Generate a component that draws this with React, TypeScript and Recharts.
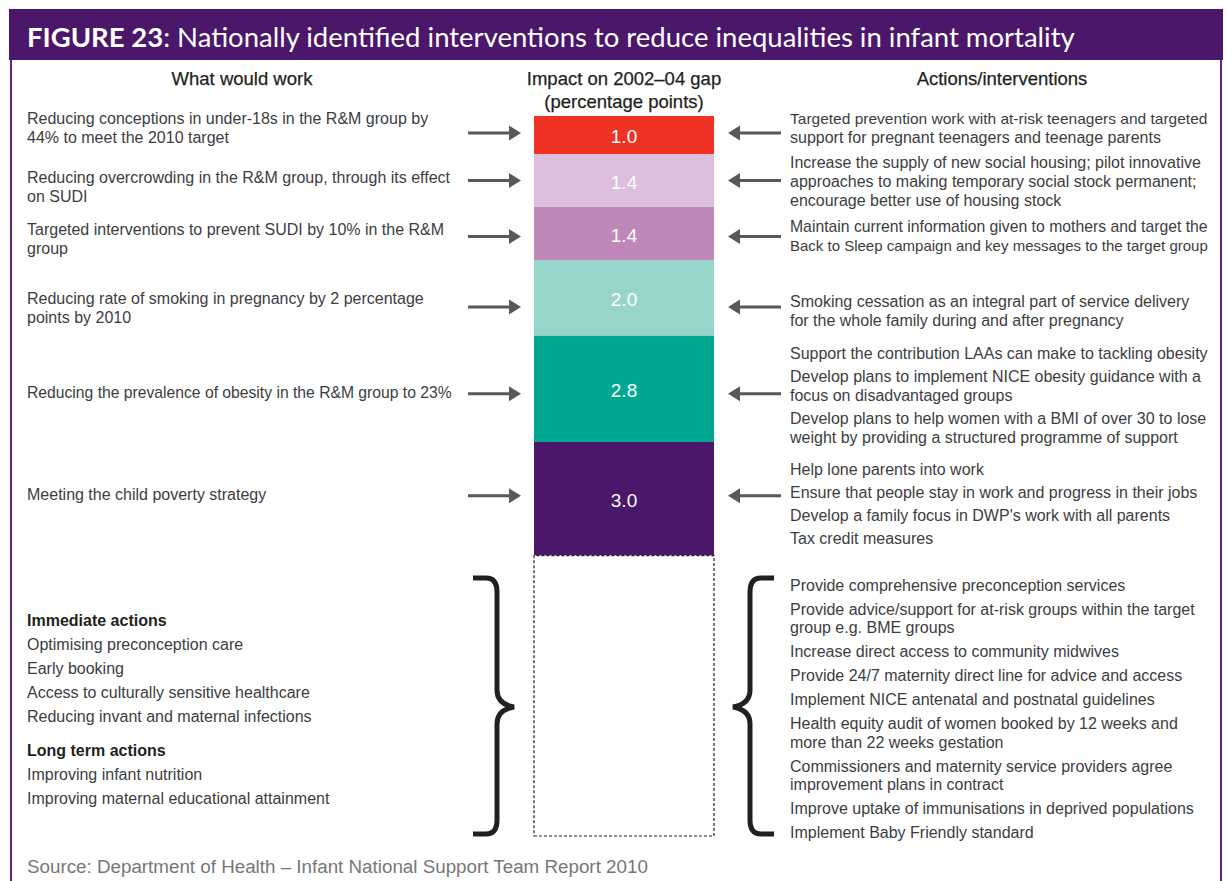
import { useLayoutEffect, useRef } from 'react';
import { Bar, BarChart, XAxis, YAxis } from 'recharts';

// impact on the 2002-04 gap, in percentage points, top to bottom
const impact = [1.0, 1.4, 1.4, 2.0, 2.8, 3.0];
// the part of the gap left over (dashed box)
const remainingGap = 7.4;

const whatWouldWork = [
  ['Reducing conceptions in under-18s in the R&M group by', '44% to meet the 2010 target'],
  ['Reducing overcrowding in the R&M group, through its effect', 'on SUDI'],
  ['Targeted interventions to prevent SUDI by 10% in the R&M', 'group'],
  ['Reducing rate of smoking in pregnancy by 2 percentage', 'points by 2010'],
  ['Reducing the prevalence of obesity in the R&M group to 23%'],
  ['Meeting the child poverty strategy'],
];

const actions = [
  [['Targeted prevention work with at-risk teenagers and targeted', 'support for pregnant teenagers and teenage parents']],
  [['Increase the supply of new social housing; pilot innovative', 'approaches to making temporary social stock permanent;', 'encourage better use of housing stock']],
  [['Maintain current information given to mothers and target the', 'Back to Sleep campaign and key messages to the target group']],
  [['Smoking cessation as an integral part of service delivery', 'for the whole family during and after pregnancy']],
  [
    ['Support the contribution LAAs can make to tackling obesity'],
    ['Develop plans to implement NICE obesity guidance with a', 'focus on disadvantaged groups'],
    ['Develop plans to help women with a BMI of over 30 to lose', 'weight by providing a structured programme of support'],
  ],
  [
    ['Help lone parents into work'],
    ['Ensure that people stay in work and progress in their jobs'],
    ["Develop a family focus in DWP's work with all parents"],
    ['Tax credit measures'],
  ],
];

const immediateActions = [
  'Optimising preconception care',
  'Early booking',
  'Access to culturally sensitive healthcare',
  'Reducing invant and maternal infections',
];
const longTermActions = ['Improving infant nutrition', 'Improving maternal educational attainment'];

const otherActions = [
  ['Provide comprehensive preconception services'],
  ['Provide advice/support for at-risk groups within the target', 'group e.g. BME groups'],
  ['Increase direct access to community midwives'],
  ['Provide 24/7 maternity direct line for advice and access'],
  ['Implement NICE antenatal and postnatal guidelines'],
  ['Health equity audit of women booked by 12 weeks and', 'more than 22 weeks gestation'],
  ['Commissioners and maternity service providers agree', 'improvement plans in contract'],
  ['Improve uptake of immunisations in deprived populations'],
  ['Implement Baby Friendly standard'],
];

const colors = ['#ee3224', '#dcbedd', '#c088b9', '#97d5ca', '#00a88f', '#4a176b'];
// small vertical nudges (px) of the side texts/arrows from the segment centre
const leftShift = [-7, 7, 6, 10, 4, -4];
const rightShift = [-7, 1, 3, 13, 7, 5];
const arrowShift = [-2, 0, 3, 9, 5, -3];

const chartData = [
  impact.reduce(
    (row: any, v, i) => ({ ...row, [`s${i}`]: v }),
    { name: 'gap', rest: remainingGap }
  ),
];

const FONT = '"Liberation Sans", Arial, sans-serif';
const TEXT = '#3d3d3f';
const DARK = '#231f20';
const BODY = 16;
const LINE = 19;
const ITEM_GAP = 23;

// svg text that shrinks its font when wider than maxWidth
function FitText({ maxWidth, children, ...rest }: any) {
  const ref = useRef<SVGTextElement>(null);
  useLayoutEffect(() => {
    const el = ref.current;
    if (!el) return;
    el.style.fontSize = BODY + 'px';
    const w = el.getComputedTextLength();
    if (w > maxWidth) el.style.fontSize = (BODY * maxWidth) / w + 'px';
  });
  return (
    <text ref={ref} dominantBaseline="central" fontFamily={FONT} fontSize={BODY} fill={TEXT} {...rest}>
      {children}
    </text>
  );
}

function Arrow({ x1, x2, y }: { x1: number; x2: number; y: number }) {
  const dir = x2 > x1 ? 1 : -1;
  const headLen = 12;
  const base = x2 - dir * headLen;
  return (
    <g>
      <line x1={x1} x2={base} y1={y} y2={y} stroke="#58595b" strokeWidth={3} />
      <polygon points={`${x2},${y} ${base},${y - 7.5} ${base},${y + 7.5}`} fill="#58595b" />
    </g>
  );
}

const SegLabel = (props: any, i: number) => {
  const { x, y, width, height } = props;
  const cy = y + height / 2;
  const left = whatWouldWork[i];
  const items = actions[i];
  let total = 0;
  items.forEach((it, k) => {
    total += (it.length - 1) * LINE + (k > 0 ? ITEM_GAP : 0);
  });
  let yy = cy + rightShift[i] - total / 2;
  const rightLines: { t: string; y: number }[] = [];
  items.forEach((it, k) => {
    if (k > 0) yy += ITEM_GAP;
    it.forEach((t, j) => {
      if (j > 0) yy += LINE;
      rightLines.push({ t, y: yy });
    });
  });
  const ly = cy + leftShift[i];
  const ay = cy + arrowShift[i];
  return (
    <g>
      <text
        x={x + width / 2}
        y={cy + 2}
        textAnchor="middle"
        dominantBaseline="central"
        fill="#fff"
        fontSize={19}
        fontFamily={FONT}
      >
        {impact[i].toFixed(1)}
      </text>
      <Arrow x1={468} x2={521} y={ay} />
      <Arrow x1={781} x2={728} y={ay} />
      {left.map((t, j) => (
        <FitText key={j} x={27} y={ly + (j - (left.length - 1) / 2) * LINE} maxWidth={425}>
          {t}
        </FitText>
      ))}
      {rightLines.map((l, j) => (
        <FitText key={j} x={790} y={l.y} maxWidth={418}>
          {l.t}
        </FitText>
      ))}
    </g>
  );
};

function Static() {
  const lowerLeft: { t: string; y: number; bold?: boolean }[] = [];
  let y = 620;
  lowerLeft.push({ t: 'Immediate actions', y, bold: true });
  immediateActions.forEach((t) => {
    y += 24;
    lowerLeft.push({ t, y });
  });
  y += 34;
  lowerLeft.push({ t: 'Long term actions', y, bold: true });
  longTermActions.forEach((t) => {
    y += 24;
    lowerLeft.push({ t, y });
  });

  const lowerRight: { t: string; y: number }[] = [];
  let ry = 585 - 24;
  otherActions.forEach((it) => {
    ry += 24;
    it.forEach((t, j) => {
      if (j > 0) ry += 18.5;
      lowerRight.push({ t, y: ry });
    });
  });

  return (
    <svg width={1226} height={881} style={{ position: 'absolute', left: 0, top: 0 }}>
      <rect x={9} y={9} width={1214} height={51} fill="#4a176b" />
      <line x1={11} x2={11} y1={60} y2={881} stroke="#5b2a80" strokeWidth={2} />
      <line x1={1221} x2={1221} y1={60} y2={881} stroke="#5b2a80" strokeWidth={2} />
      <text x={27} y={36} dominantBaseline="central" fill="#fff" fontSize={27.5} fontFamily="Lato, sans-serif">
        <tspan fontWeight="bold">FIGURE 23</tspan>
        <tspan>: Nationally identified interventions to reduce inequalities in infant mortality</tspan>
      </text>
      <g
        fontFamily={FONT}
        fontSize={18.5}
        fill={DARK}
        stroke={DARK}
        strokeWidth={0.25}
        textAnchor="middle"
        dominantBaseline="central"
      >
        <text x={242} y={78}>What would work</text>
        <text x={624} y={78}>Impact on 2002–04 gap</text>
        <text x={624} y={101}>(percentage points)</text>
        <text x={1002} y={78}>Actions/interventions</text>
      </g>
      {lowerLeft.map((l, j) => (
        <FitText
          key={j}
          x={27}
          y={l.y}
          maxWidth={425}
          fill={l.bold ? DARK : TEXT}
          fontWeight={l.bold ? 'bold' : 'normal'}
        >
          {l.t}
        </FitText>
      ))}
      {lowerRight.map((l, j) => (
        <FitText key={j} x={790} y={l.y} maxWidth={418}>
          {l.t}
        </FitText>
      ))}
      <path
        d="M473 578 L486 578 Q497 578 497 592 L497 690 Q497 704 514 707 Q497 710 497 724 L497 820 Q497 834 486 834 L473 834"
        fill="none"
        stroke={DARK}
        strokeWidth={5}
      />
      <path
        d="M774 578 L761 578 Q750 578 750 592 L750 690 Q750 704 733 707 Q750 710 750 724 L750 820 Q750 834 761 834 L774 834"
        fill="none"
        stroke={DARK}
        strokeWidth={5}
      />
      <text x={27} y={866} dominantBaseline="central" fill="#777" fontSize={18.8} fontFamily={FONT}>
        Source: Department of Health – Infant National Support Team Report 2010
      </text>
    </svg>
  );
}

export default function App() {
  return (
    <div style={{ position: 'absolute', left: 0, top: 0, width: 1226, height: 881, background: '#fff', overflow: 'hidden' }}>
      <Static />
      <div style={{ position: 'absolute', left: 0, top: 0 }}>
        <BarChart
          width={1226}
          height={881}
          data={chartData}
          margin={{ top: 116, left: 534, right: 512, bottom: 45 }}
          barCategoryGap={0}
          style={{ overflow: 'visible' }}
        >
          <XAxis dataKey="name" hide />
          <YAxis hide reversed domain={[0, 19]} />
          {impact.map((_, i) => (
            <Bar
              key={i}
              dataKey={`s${i}`}
              stackId="a"
              fill={colors[i]}
              isAnimationActive={false}
              label={(p: any) => SegLabel(p, i)}
            />
          ))}
          <Bar
            dataKey="rest"
            stackId="a"
            fill="#fff"
            stroke={DARK}
            strokeWidth={1.2}
            strokeDasharray="3 2"
            isAnimationActive={false}
          />
        </BarChart>
      </div>
    </div>
  );
}
